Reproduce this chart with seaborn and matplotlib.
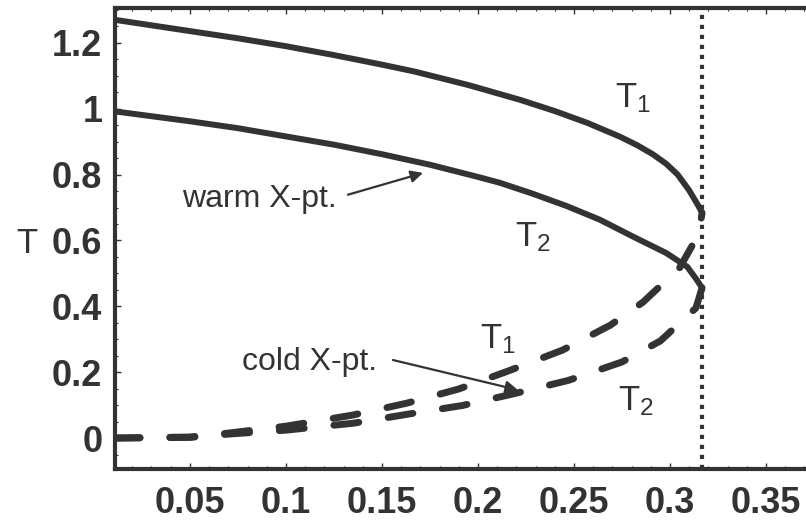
import numpy as np
import pandas as pd
import matplotlib
matplotlib.use("Agg")
import matplotlib.pyplot as plt
from matplotlib.ticker import MultipleLocator
import seaborn as sns

# DATA
# warm X-point branch (solid)
warm_t1_x = [0.011, 0.051, 0.075, 0.1, 0.125, 0.15, 0.167, 0.195, 0.222, 0.24, 0.257, 0.274, 0.283, 0.291, 0.298, 0.304, 0.310, 0.3146, 0.3167]
warm_t1_y = [1.270, 1.235, 1.214, 1.19, 1.163, 1.134, 1.113, 1.072, 1.027, 0.993, 0.957, 0.915, 0.889, 0.862, 0.833, 0.800, 0.752, 0.707, 0.684]
warm_t2_x = [0.011, 0.05, 0.075, 0.1, 0.125, 0.15, 0.175, 0.2, 0.2115, 0.228, 0.246, 0.2635, 0.281, 0.298, 0.309, 0.314, 0.3167]
warm_t2_y = [0.992, 0.962, 0.941, 0.916, 0.891, 0.862, 0.83, 0.793, 0.775, 0.743, 0.705, 0.663, 0.611, 0.562, 0.520, 0.480, 0.456]
# cold X-point branch (dashed)
cold_t1_x = [0.011, 0.05, 0.07, 0.1, 0.135, 0.163, 0.19, 0.215, 0.244, 0.269, 0.286, 0.305, 0.315, 0.3167]
cold_t1_y = [0.0, 0.003, 0.015, 0.036, 0.07, 0.106, 0.149, 0.202, 0.267, 0.343, 0.413, 0.517, 0.62, 0.684]
cold_t2_x = [0.011, 0.05, 0.07, 0.1, 0.135, 0.163, 0.192, 0.219, 0.247, 0.275, 0.295, 0.3135, 0.3167]
cold_t2_y = [0.0, 0.002, 0.012, 0.024, 0.045, 0.072, 0.099, 0.135, 0.175, 0.231, 0.295, 0.395, 0.456]

x_crit = 0.3167  # vertical dotted line

xticks = [0.05, 0.1, 0.15, 0.2, 0.25, 0.3, 0.35]
xtick_labels = ["0.05", "0.1", "0.15", "0.2", "0.25", "0.3", "0.35"]
yticks = [0, 0.2, 0.4, 0.6, 0.8, 1.0, 1.2]
ytick_labels = ["0", "0.2", "0.4", "0.6", "0.8", "1", "1.2"]

ink = "#333333"

sns.set_style("ticks")
plt.rcParams['font.family'] = ['Liberation Sans', 'DejaVu Sans']
plt.rcParams['mathtext.fontset'] = 'custom'
plt.rcParams['mathtext.rm'] = 'Liberation Sans'
plt.rcParams['mathtext.it'] = 'Liberation Sans'
plt.rcParams['mathtext.default'] = 'rm'

fig = plt.figure(figsize=(8.06, 5.21), dpi=100)
ax = fig.add_axes([115 / 806, 52 / 521, 700 / 806, 461 / 521])

solid_df = pd.concat([
    pd.DataFrame({'x': warm_t1_x, 'T': warm_t1_y, 'curve': 'warm T1'}),
    pd.DataFrame({'x': warm_t2_x, 'T': warm_t2_y, 'curve': 'warm T2'}),
])
cold_df = pd.concat([
    pd.DataFrame({'x': cold_t1_x, 'T': cold_t1_y, 'curve': 'cold T1'}),
    pd.DataFrame({'x': cold_t2_x, 'T': cold_t2_y, 'curve': 'cold T2'}),
])

sns.lineplot(data=solid_df, x='x', y='T', units='curve', estimator=None,
             color=ink, linewidth=4.3, solid_capstyle='round', ax=ax)
sns.lineplot(data=cold_df, x='x', y='T', units='curve', estimator=None,
             color=ink, linewidth=5.0, linestyle=(0, (3.6, 4.3)),
             dash_capstyle='round', ax=ax)
ax.axvline(x_crit, color=ink, linewidth=3.0, linestyle=(0, (1, 1.4)))

ax.set_xlim(0.011, 0.3755)
ax.set_ylim(-0.094, 1.306)

tick_font = ['Liberation Sans Narrow', 'Liberation Sans']
ax.set_xticks(xticks, labels=xtick_labels, fontweight='bold', family=tick_font)
ax.set_yticks(yticks, labels=ytick_labels, fontweight='bold', family=tick_font)
ax.xaxis.set_minor_locator(MultipleLocator(0.01))
ax.yaxis.set_minor_locator(MultipleLocator(0.05))
ax.tick_params(which='both', direction='in', top=True, right=False, color=ink,
               labelcolor=ink, labelsize=26)
ax.tick_params(which='major', length=4, width=1)
ax.tick_params(which='minor', length=2.5, width=0.8)
ax.tick_params(axis='x', pad=12)
ax.tick_params(axis='y', pad=9)
for side in ['left', 'bottom', 'top', 'right']:
    ax.spines[side].set_linewidth(3)
    ax.spines[side].set_color(ink)

ax.set_xlabel('')
ax.set_ylabel('T', rotation=0, fontsize=25, color=ink, ha='center', va='center')
ax.yaxis.set_label_coords(-0.126, 0.49)

# curve labels
ax.text(0.2714, 1.003, 'T$_1$', fontsize=25, color=ink, va='baseline')
ax.text(0.2193, 0.581, 'T$_2$', fontsize=25, color=ink, va='baseline')
ax.text(0.201, 0.274, 'T$_1$', fontsize=25, color=ink, va='baseline')
ax.text(0.2729, 0.085, 'T$_2$', fontsize=25, color=ink, va='baseline')

ax.text(0.0458, 0.702, 'warm X-pt.', fontsize=23, color=ink, va='baseline')
ax.text(0.0771, 0.207, 'cold X-pt.', fontsize=23, color=ink, va='baseline')
arrow = dict(arrowstyle='-|>', color=ink, lw=1.6, mutation_scale=18, shrinkA=0, shrinkB=0)
ax.annotate('', xy=(0.1714, 0.805), xytext=(0.1323, 0.739), arrowprops=arrow)
ax.annotate('', xy=(0.2208, 0.146), xytext=(0.1557, 0.237), arrowprops=arrow)

fig.savefig('out.png', dpi=100)
